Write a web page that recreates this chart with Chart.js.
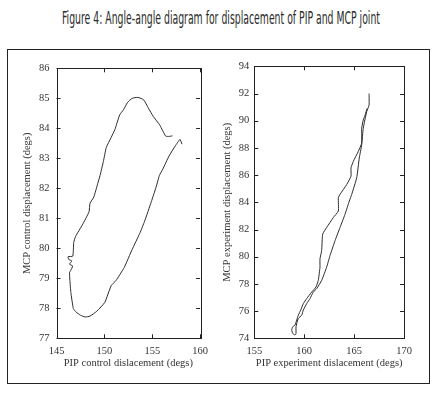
<!DOCTYPE html>
<html>
<head>
<meta charset="utf-8">
<script src="https://cdn.jsdelivr.net/npm/chart.js@4.4.1/dist/chart.umd.min.js"></script>
<style>
    body { margin: 0; background: #fff; }
    #page { position: relative; width: 440px; height: 393px; overflow: hidden; }
    #fig-title {
        position: absolute; left: 0; top: 8px; white-space: nowrap;
        font-family: "Liberation Sans Narrow", "DejaVu Sans Condensed", "Liberation Sans", sans-serif;
        font-size: 17px; color: #2a2a2a; transform-origin: 0 0;
    }
    #frame {
        position: absolute; left: 7px; top: 49px; width: 423px; height: 335px;
        box-sizing: border-box; border: 1px solid #222;
    }
    canvas { position: absolute; }
</style>
</head>
<body>
<div id="page">
    <div id="fig-title">Figure 4: Angle-angle diagram for displacement of PIP and MCP joint</div>
    <div id="frame"></div>
    <canvas id="chart-control" style="left:0px; top:55px; width:215px; height:320px;"></canvas>
    <canvas id="chart-experiment" style="left:215px; top:55px; width:225px; height:320px;"></canvas>
</div>
<script>
// control trial (left panel)
const controlPip = [157.1, 156.8, 156.4, 155.8, 155.1, 154.6, 154.1, 153.5, 152.9, 152.4, 152.0, 151.6, 151.1, 150.7,
    150.2, 149.9, 149.55, 149.3, 148.9, 148.5, 148.4, 147.7, 147.0, 146.8, 146.7, 146.2, 146.3, 146.6, 146.36, 146.69,
    146.46, 146.36, 146.4, 146.5, 146.76, 147.03, 147.5, 148.0, 148.5, 149.2, 150.05, 150.7, 151.2, 152.07, 152.9, 153.7,
    154.2, 154.9, 155.4, 155.75, 156.1, 156.76, 157.4, 157.9, 158.1];
const controlMcp = [83.75, 83.73, 83.74, 84.1, 84.4, 84.67, 84.95, 85.03, 85.0, 84.85, 84.62, 84.45, 83.96, 83.69,
    83.36, 82.9, 82.43, 82.15, 81.71, 81.5, 81.22, 80.78, 80.4, 80.2, 79.74, 79.72, 79.62, 79.58, 79.47, 79.41,
    79.25, 79.19, 78.92, 78.53, 77.99, 77.88, 77.77, 77.71, 77.74, 77.9, 78.2, 78.75, 78.92, 79.36, 79.96, 80.5,
    80.9, 81.55, 82.04, 82.43, 82.64, 83.08, 83.41, 83.63, 83.47];

// experiment trial (right panel)
const experimentPip = [166.5, 166.5, 166.26, 165.92, 165.76, 165.52, 165.26, 164.76, 164.52, 164.09, 163.59, 163.09,
    162.59, 162.25, 161.75, 161.25, 160.91, 160.58, 160.25, 159.91, 159.75, 159.41, 159.18, 159.18, 159.08, 158.85,
    158.75, 158.85, 159.08, 159.25, 159.41, 159.65, 159.91, 160.25, 160.75, 161.18, 161.41, 161.58, 161.58, 161.75,
    161.85, 162.25, 162.92, 163.42, 163.42, 163.59, 164.26, 164.69, 164.69, 164.92, 165.42, 165.76, 165.76, 165.92,
    166.1, 166.3];
const experimentMcp = [92.0, 91.15, 90.66, 89.45, 88.23, 87.26, 85.8, 84.58, 84.09, 83.12, 82.15, 81.18,
    80.09, 79.23, 78.26, 77.65, 77.4, 76.92, 76.55, 76.07, 75.7, 75.46, 74.85, 74.36, 74.24, 74.36,
    74.61, 74.85, 74.97, 75.34, 75.7, 76.07, 76.55, 76.92, 77.4, 77.77, 78.26, 79.23, 79.84, 80.45,
    81.66, 82.15, 82.88, 83.36, 84.34, 84.58, 85.31, 85.92, 86.53, 87.01, 87.74, 88.35, 89.45, 90.06,
    90.4, 90.9];

// axis ranges / ticks
const controlX = { min: 145, max: 160, step: 5 };
const controlY = { min: 77, max: 86, step: 1 };
const experimentX = { min: 155, max: 170, step: 5 };
const experimentY = { min: 74, max: 94, step: 2 };

// fit the condensed title to the width it has in the figure
const figTitle = document.getElementById("fig-title");
const titleWidth = figTitle.getBoundingClientRect().width;
const targetWidth = 318;
figTitle.style.transform = "scaleX(" + (targetWidth / titleWidth) + ")";
figTitle.style.left = (221 - targetWidth / 2) + "px";

const serif = "'Liberation Serif', 'DejaVu Serif', serif";
const ink = "#333";

// matlab style box with ticks pointing inwards on all four sides
const boxTicks = {
    id: "boxTicks",
    afterDraw(chart) {
        const { ctx, chartArea: a, scales } = chart;
        const len = 4;
        ctx.save();
        ctx.strokeStyle = "#222";
        ctx.lineWidth = 1;
        ctx.strokeRect(Math.round(a.left) + 0.5, Math.round(a.top) + 0.5,
            Math.round(a.right - a.left), Math.round(a.bottom - a.top));
        ctx.beginPath();
        scales.x.ticks.forEach((t) => {
            const px = Math.round(scales.x.getPixelForValue(t.value)) + 0.5;
            ctx.moveTo(px, a.bottom); ctx.lineTo(px, a.bottom - len);
            ctx.moveTo(px, a.top); ctx.lineTo(px, a.top + len);
        });
        scales.y.ticks.forEach((t) => {
            const py = Math.round(scales.y.getPixelForValue(t.value)) + 0.5;
            ctx.moveTo(a.left, py); ctx.lineTo(a.left + len, py);
            ctx.moveTo(a.right, py); ctx.lineTo(a.right - len, py);
        });
        ctx.stroke();
        ctx.restore();
    },
};

function makePanel(canvasId, pip, mcp, xr, yr, xTitle, yTitle, layout) {
    const canvas = document.getElementById(canvasId);
    if (!canvas) {
        return;
    }
    return new Chart(canvas, {
        type: "scatter",
        data: {
            datasets: [
                {
                    data: pip.map((v, i) => ({ x: v, y: mcp[i] })),
                    showLine: true,
                    pointRadius: 0,
                    borderColor: "#2a2a2a",
                    borderWidth: 1,
                    tension: 0.15,
                },
            ],
        },
        options: {
            responsive: false,
            animation: false,
            layout: { padding: layout.padding },
            plugins: {
                legend: { display: false },
                tooltip: { enabled: false },
            },
            scales: {
                x: {
                    type: "linear",
                    min: xr.min,
                    max: xr.max,
                    grid: { display: false, drawTicks: false },
                    border: { display: false },
                    ticks: {
                        stepSize: xr.step,
                        padding: 7,
                        color: ink,
                        font: { family: serif, size: 10.5 },
                        maxRotation: 0,
                    },
                    title: {
                        display: true,
                        text: xTitle,
                        color: ink,
                        font: { family: serif, size: 10.5 },
                        padding: { top: 0, bottom: 5.7 },
                    },
                    afterFit(scale) {
                        scale.height = layout.xHeight;
                    },
                },
                y: {
                    type: "linear",
                    min: yr.min,
                    max: yr.max,
                    grid: { display: false, drawTicks: false },
                    border: { display: false },
                    ticks: {
                        stepSize: yr.step,
                        padding: layout.yTickPad,
                        color: ink,
                        font: { family: serif, size: 10.5 },
                    },
                    title: {
                        display: true,
                        text: yTitle,
                        color: ink,
                        font: { family: serif, size: 10.5 },
                        padding: { top: layout.yTitlePad, bottom: 0 },
                    },
                    afterFit(scale) {
                        scale.width = layout.yWidth;
                    },
                },
            },
        },
        plugins: [boxTicks],
    });
}

// pass canvas sizes explicitly since responsive is off
document.getElementById("chart-control").width = 215;
document.getElementById("chart-control").height = 320;
document.getElementById("chart-experiment").width = 225;
document.getElementById("chart-experiment").height = 320;

makePanel("chart-control", controlPip, controlMcp, controlX, controlY,
    "PIP control dislacement (degs)", "MCP control displacement (degs)",
    { padding: { top: 9.7, right: 9.5, left: 0, bottom: 0 }, xHeight: 36.7, yWidth: 56.5, yTickPad: 7, yTitlePad: 20.7 });

makePanel("chart-experiment", experimentPip, experimentMcp, experimentX, experimentY,
    "PIP experiment dislacement (degs)", "MCP experiment displacement (degs)",
    { padding: { top: 9.3, right: 36, left: 0, bottom: 0 }, xHeight: 36.7, yWidth: 39.3, yTickPad: 5, yTitlePad: 5.7 });
</script>
</body>
</html>
